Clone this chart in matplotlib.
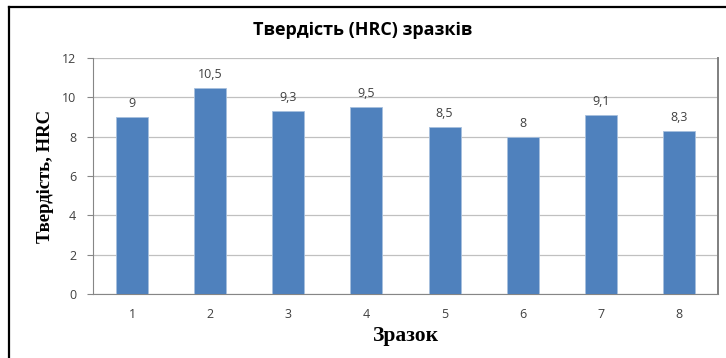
import matplotlib
matplotlib.use("Agg")
import matplotlib.pyplot as plt
from matplotlib.lines import Line2D

# данные
samples = ["1", "2", "3", "4", "5", "6", "7", "8"]
hardness = [9, 10.5, 9.3, 9.5, 8.5, 8, 9.1, 8.3]
value_labels = ["9", "10,5", "9,3", "9,5", "8,5", "8", "9,1", "8,3"]
yticks = [0, 2, 4, 6, 8, 10, 12]

W, H, DPI = 726, 358, 100
BAR = "#4F81BD"
TXT = "#404040"
SANS = ["Open Sans", "DejaVu Sans"]
SERIF = ["Liberation Serif", "DejaVu Serif"]

fig = plt.figure(figsize=(W / DPI, H / DPI), dpi=DPI)
ax = fig.add_axes([93 / W, 1 - 294 / H, (718 - 93) / W, (294 - 58) / H])

x = range(len(samples))
bars = ax.bar(x, hardness, width=0.41, color=BAR, edgecolor="#A7C0DE",
              linewidth=0.6, zorder=3)

# подписи значений
for b, lab in zip(bars, value_labels):
    ax.annotate(lab, (b.get_x() + b.get_width() / 2, b.get_height()),
                xytext=(0, 5), textcoords="offset points",
                ha="center", va="bottom", fontsize=9, color=TXT,
                family=SANS)

ax.set_xlim(-0.5, len(samples) - 0.5)
ax.set_ylim(0, 12)
ax.set_yticks(yticks)
ax.set_xticks(list(x))
ax.set_xticklabels(samples)
ax.yaxis.grid(True, color="#C0C0C0", linewidth=0.9, zorder=0)
ax.set_axisbelow(True)

for lab in ax.get_xticklabels() + ax.get_yticklabels():
    lab.set_family(SANS)
    lab.set_fontsize(9)
    lab.set_color(TXT)
ax.tick_params(axis="y", length=4, color="#868686", width=0.8, pad=8)
ax.tick_params(axis="x", length=0, pad=10)

ax.spines["left"].set_color("#868686")
ax.spines["bottom"].set_color("#868686")
ax.spines["top"].set_visible(False)
ax.spines["right"].set_color("#7F7F7F")
ax.spines["right"].set_linewidth(1.4)

ax.set_xlabel("Зразок", family=SERIF, fontweight="bold", fontsize=15.5,
              labelpad=4)
ax.set_ylabel("Твердість, HRC", family=SERIF, fontweight="bold",
              fontsize=13.5, labelpad=6)

fig.text(0.5, 1 - 30 / H, "Твердість (HRC) зразків", ha="center",
         va="center", fontsize=13, fontweight="bold", family=SANS,
         color="black")

# рамка
fig.add_artist(Line2D([8.5 / W, 1], [1 - 7 / H] * 2, color="black",
                      linewidth=1.6, transform=fig.transFigure))
fig.add_artist(Line2D([8.5 / W] * 2, [0, 1 - 7 / H], color="black",
                      linewidth=1.6, transform=fig.transFigure))

fig.savefig("out.png", dpi=DPI, facecolor="white")
